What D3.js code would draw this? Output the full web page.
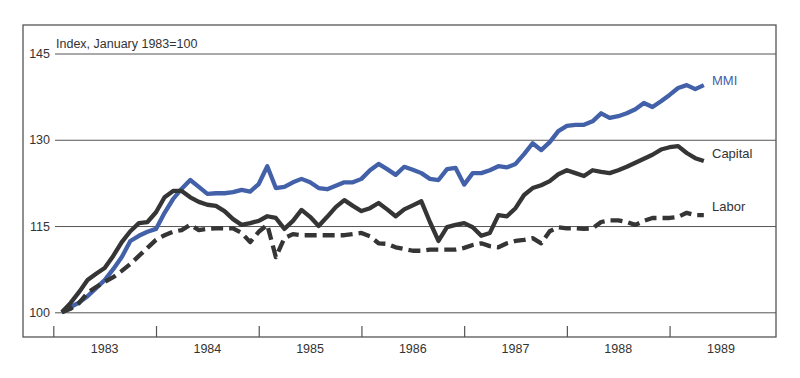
<!DOCTYPE html>
<html><head><meta charset="utf-8">
<script src="https://cdn.jsdelivr.net/npm/d3@7"></script>
<style>
html,body{margin:0;padding:0;background:#fff;}
svg{display:block;font-family:"Liberation Sans",Arial,Helvetica,sans-serif;}
</style></head>
<body><svg id="c" width="800" height="378"></svg>
<script>
const years = [1983, 1984, 1985, 1986, 1987, 1988, 1989];
const yTicks = [100, 115, 130, 145];
const seriesNames = ["MMI", "Capital", "Labor"];
// Monthly index values, Jan 1983 .. Apr 1989
const mmi = [100,100.9,101.7,102.8,104.2,105.6,107.5,109.6,112.4,113.3,114,114.5,
117.3,119.7,121.5,123,121.8,120.6,120.7,120.7,120.9,121.3,121,122.3,
125.4,121.6,121.8,122.6,123.2,122.6,121.6,121.4,122,122.6,122.6,123.2,
124.7,125.8,124.9,123.9,125.3,124.8,124.2,123.2,123,124.9,125.1,122.2,
124.2,124.2,124.7,125.4,125.2,125.8,127.5,129.4,128.2,129.6,131.5,132.4,
132.6,132.6,133.2,134.6,133.8,134.1,134.6,135.3,136.4,135.7,136.7,137.8,
139,139.5,138.8,139.5];
const capital = [100,101.6,103.5,105.6,106.7,107.7,109.8,112.2,114.1,115.5,115.7,117.4,
120,121.1,121.1,120,119.2,118.7,118.5,117.6,116.2,115.2,115.5,115.9,
116.7,116.4,114.5,115.9,117.8,116.6,115,116.6,118.3,119.5,118.5,117.6,
118.1,119,117.9,116.7,117.9,118.6,119.3,115.7,112.4,114.8,115.2,115.5,
114.8,113.3,113.8,116.9,116.7,118.1,120.4,121.6,122.1,122.8,124,124.7,
124.2,123.7,124.7,124.4,124.2,124.7,125.3,126,126.7,127.4,128.3,128.7,
128.9,127.7,126.8,126.3];
const labor = [100,100.6,101.6,103.4,104.4,105.3,106.1,107.2,108.4,109.8,111.2,112.6,
113.4,114,114.3,115.2,114.3,114.5,114.6,114.6,114.6,113.8,112.2,114,
115.2,109.6,112.9,113.6,113.4,113.4,113.4,113.4,113.4,113.4,113.6,113.8,
113.2,112,111.9,111.3,111,110.7,110.7,110.9,110.9,110.9,110.9,111.2,
111.7,112,111.5,111.3,112,112.4,112.6,112.9,112,114.1,114.8,114.6,
114.6,114.5,114.6,115.7,116,116,115.7,115.2,115.9,116.4,116.4,116.4,
116.6,117.3,116.9,116.9];

const svg = d3.select("#c");
const frame = {l: 23, t: 25, r: 776, b: 337};
const x = d3.scaleLinear().domain([0, 84]).range([53.3, 772.3]);
const y = d3.scaleLinear().domain([100, 145]).range([312.3, 53.5]);
const font = "'Liberation Sans',Arial,sans-serif";

svg.append("rect").attr("x", frame.l).attr("y", frame.t)
  .attr("width", frame.r - frame.l).attr("height", frame.b - frame.t)
  .attr("fill", "none").attr("stroke", "#555").attr("stroke-width", 1.3);

// gridlines + y labels
const yAxis = d3.axisLeft(y).tickValues(yTicks).tickSize(-(frame.r - 55)).tickPadding(5);
const gy = svg.append("g").attr("transform", "translate(55,0)").call(yAxis);
gy.select(".domain").remove();
gy.selectAll(".tick line").attr("stroke", "#555").attr("stroke-width", 1);
gy.selectAll(".tick text").attr("fill", "#333").attr("font-size", 12.5)
  .attr("font-family", font);

// x ticks at year boundaries
const xAxis = d3.axisTop(x).tickValues(years.map(yv => (yv - 1983) * 12)).tickSize(11).tickFormat("");
const gx = svg.append("g").attr("transform", `translate(0,${frame.b})`).call(xAxis);
gx.select(".domain").remove();
gx.selectAll(".tick line").attr("stroke", "#555").attr("stroke-width", 1.2);

svg.append("g").selectAll("text").data(years).join("text")
  .attr("x", d => x((d - 1983) * 12 + 6)).attr("y", 353)
  .attr("text-anchor", "middle").attr("font-size", 12.5).attr("fill", "#333")
  .text(d => d);

svg.append("text").attr("x", 56).attr("y", 47.5).attr("font-size", 12.5)
  .attr("fill", "#333").text("Index, January 1983=100");

const line = d3.line().x((d, i) => x(i + 1)).y(d => y(d)).curve(d3.curveLinear);
const series = [
  {name: seriesNames[0], data: mmi, color: "#4361a9", dash: null},
  {name: seriesNames[1], data: capital, color: "#353535", dash: null},
  {name: seriesNames[2], data: labor, color: "#353535", dash: "12,6"}
];
series.forEach(s => {
  svg.append("path").attr("d", line(s.data)).attr("fill", "none")
    .attr("stroke", s.color).attr("stroke-width", 4.3)
    .attr("stroke-linejoin", "round")
    .attr("stroke-dasharray", s.dash);
});

const labelPos = [{dy: -5, c: "#4361a9"}, {dy: -8, c: "#333"}, {dy: -9, c: "#333"}];
series.forEach((s, k) => {
  const last = s.data[s.data.length - 1];
  svg.append("text").attr("x", 712).attr("y", y(last) + labelPos[k].dy + 4.5)
    .attr("font-size", 13).attr("fill", labelPos[k].c).text(s.name);
});
</script></body></html>
